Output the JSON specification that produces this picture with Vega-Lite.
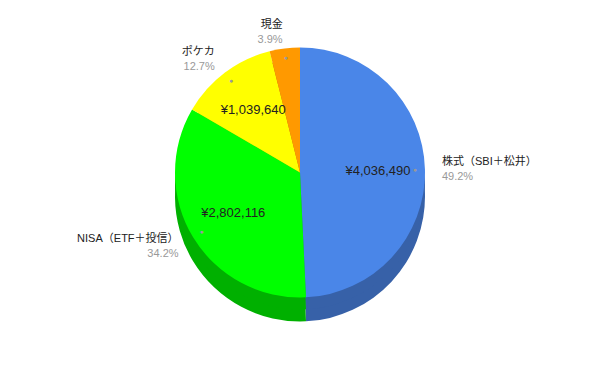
{
  "$schema": "https://vega.github.io/schema/vega-lite/v6.json",
  "width": 600,
  "height": 371,
  "autosize": {"type": "fit", "contains": "padding"},
  "background": "white",
  "config": {"view": {"stroke": null}, "font": "Arial, 'Liberation Sans', 'Noto Sans CJK JP'"},
  "data": {
    "values": [
      {"name": "株式（SBI＋松井）", "value": 4036490, "i": 1},
      {"name": "NISA（ETF＋投信）", "value": 2802116, "i": 2},
      {"name": "ポケカ", "value": 1039640, "i": 3},
      {"name": "現金", "value": 320000, "i": 4}
    ]
  },
  "transform": [
    {"joinaggregate": [{"op": "sum", "field": "value", "as": "total"}]},
    {"window": [{"op": "sum", "field": "value", "as": "cum"}], "sort": [{"field": "i"}], "frame": [null, 0]},
    {"calculate": "datum.value / datum.total", "as": "pct"},
    {"calculate": "(datum.cum - datum.value / 2) / datum.total", "as": "mid"},
    {"calculate": "'¥' + format(datum.value, ',')", "as": "yen"}
  ],
  "encoding": {
    "theta": {"field": "value", "type": "quantitative", "stack": true},
    "order": {"field": "i", "type": "quantitative", "sort": "ascending"}
  },
  "layer": [
    {
      "mark": {"type": "arc", "radius": 125, "yOffset": 11},
      "encoding": {"color": {"field": "name", "type": "nominal", "scale": {"domain": ["株式（SBI＋松井）", "NISA（ETF＋投信）", "ポケカ", "現金"], "range": ["#3761a8", "#00b000", "#b8b800", "#b86e00"]}, "legend": null}}
    },
    {
      "mark": {"type": "arc", "radius": 125, "yOffset": -1},
      "encoding": {"color": {"field": "name", "type": "nominal", "scale": {"domain": ["株式（SBI＋松井）", "NISA（ETF＋投信）", "ポケカ", "現金"], "range": ["#3761a8", "#00b000", "#b8b800", "#b86e00"]}, "legend": null}}
    },
    {
      "mark": {"type": "arc", "radius": 125, "yOffset": -13},
      "encoding": {"color": {"field": "name", "type": "nominal", "scale": {"domain": ["株式（SBI＋松井）", "NISA（ETF＋投信）", "ポケカ", "現金"], "range": ["#4a86e8", "#00ff00", "#ffff00", "#ff9900"]}, "legend": null}}
    },
    {
      "mark": {"type": "text", "radius": 78, "yOffset": -13, "fontSize": 13, "color": "#222222"},
      "encoding": {"text": {"condition": {"test": "datum.pct > 0.05", "field": "yen", "type": "nominal"}, "value": ""}}
    },
    {
      "mark": {"type": "text", "radius": 115, "yOffset": -13, "fontSize": 7, "color": "#999999"},
      "encoding": {"text": {"value": "●"}}
    },
    {
      "mark": {"type": "text", "radius": 142, "yOffset": -13, "dy": -7, "fontSize": 11, "color": "#222222", "align": "left"},
      "encoding": {"text": {"condition": {"test": "datum.mid < 0.5", "field": "name", "type": "nominal"}, "value": ""}}
    },
    {
      "mark": {"type": "text", "radius": 142, "yOffset": -13, "dy": 8, "fontSize": 11, "color": "#999999", "align": "left"},
      "encoding": {"text": {"condition": {"test": "datum.mid < 0.5", "field": "pct", "type": "quantitative", "format": ".1%"}, "value": ""}}
    },
    {
      "mark": {"type": "text", "radius": 142, "yOffset": -13, "dy": -7, "fontSize": 11, "color": "#222222", "align": "right"},
      "encoding": {"text": {"condition": {"test": "datum.mid >= 0.5", "field": "name", "type": "nominal"}, "value": ""}}
    },
    {
      "mark": {"type": "text", "radius": 142, "yOffset": -13, "dy": 8, "fontSize": 11, "color": "#999999", "align": "right"},
      "encoding": {"text": {"condition": {"test": "datum.mid >= 0.5", "field": "pct", "type": "quantitative", "format": ".1%"}, "value": ""}}
    }
  ],
  "resolve": {"scale": {"color": "independent"}}
}
